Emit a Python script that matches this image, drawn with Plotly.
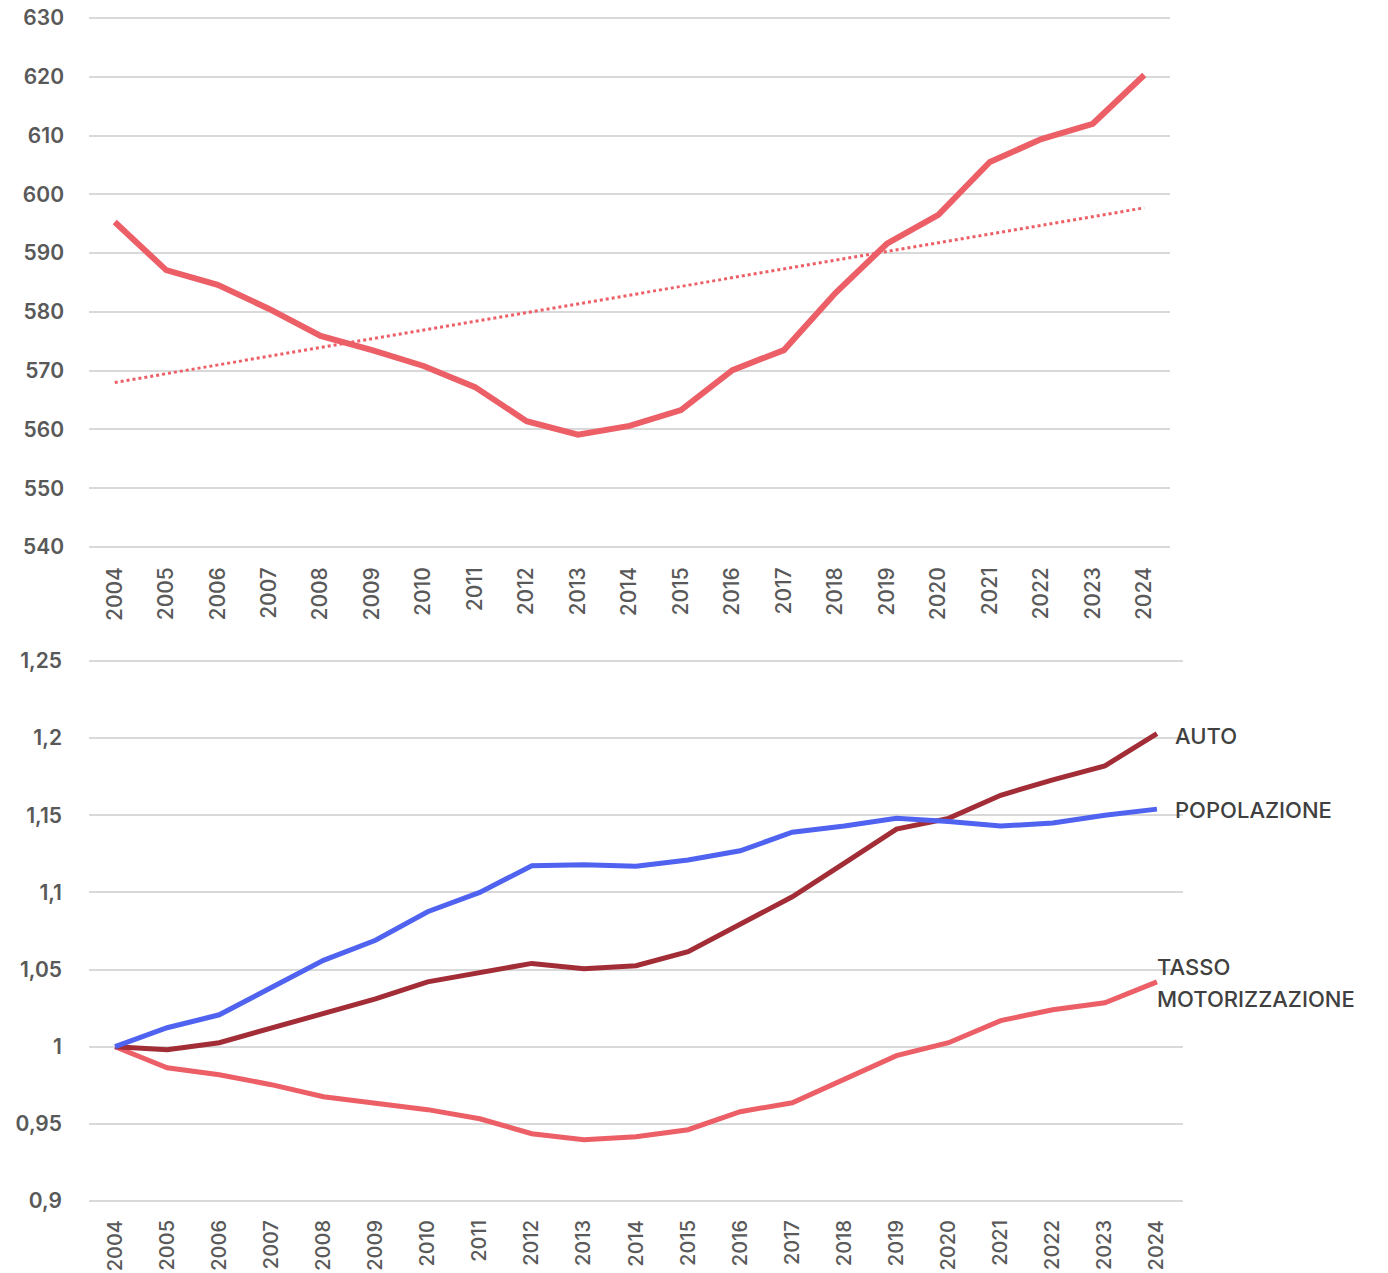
import plotly.graph_objects as go

years = [str(y) for y in range(2004, 2025)]

# Top chart: tasso di motorizzazione (auto per 1000 abitanti)
tasso_abs = [595.3, 587.1, 584.6, 580.5, 575.9, 573.5, 570.8, 567.2, 561.4, 559.1,
             560.6, 563.3, 570.1, 573.5, 583.2, 591.6, 596.5, 605.5, 609.4, 612.0, 620.3]
trend_years = ["2004", "2024"]
trend_vals = [568.0, 597.7]

# Bottom chart: indici (2004 = 1)
auto_idx = [1.0, 0.998, 1.0026, 1.0123, 1.0214, 1.031, 1.042, 1.048, 1.054, 1.0505,
            1.0525, 1.0616, 1.0797, 1.0972, 1.119, 1.141, 1.148, 1.163, 1.173, 1.182, 1.203]
pop_idx = [1.0, 1.0123, 1.0207, 1.038, 1.056, 1.069, 1.0875, 1.1, 1.1173, 1.118,
           1.117, 1.121, 1.127, 1.139, 1.143, 1.148, 1.146, 1.143, 1.145, 1.15, 1.154]
tasso_idx = [1.0, 0.9864, 0.9818, 0.9754, 0.9676, 0.9637, 0.9592, 0.9533, 0.9436, 0.9397,
             0.9417, 0.9462, 0.9579, 0.9637, 0.9793, 0.9942, 1.0026, 1.0169, 1.024, 1.0285, 1.042]

top_ticks = [540, 550, 560, 570, 580, 590, 600, 610, 620, 630]
bot_tickvals = [0.9, 0.95, 1.0, 1.05, 1.1, 1.15, 1.2, 1.25]
bot_ticktext = ["0,9", "0,95", "1", "1,05", "1,1", "1,15", "1,2", "1,25"]

RED = "#EC5F67"
DARK = "#A22D36"
BLUE = "#4F62F0"
GRID = "#D9D9D9"
TICK = "#595959"
FONT = "Inter"

# page body has an 8px margin
OFF = 8
W, H = 1388 - OFF, 1273 - OFF


def dx(px):
    return (px - OFF) / W


def dy(px):
    return 1 - (px - OFF) / H


PAD = 2  # px so that edge gridlines are drawn
top_lo, top_hi = 540, 630
top_px_top, top_px_bot = 18, 547
top_per = (top_px_bot - top_px_top) / (top_hi - top_lo)
top_eps = PAD / top_per

bot_lo, bot_hi = 0.9, 1.25
bot_px_top, bot_px_bot = 661, 1201
bot_per = (bot_px_bot - bot_px_top) / (bot_hi - bot_lo)
bot_eps = PAD / bot_per

fig = go.Figure()
fig.add_trace(go.Scatter(x=years, y=tasso_abs, mode="lines",
                         line=dict(color=RED, width=6), xaxis="x", yaxis="y"))
fig.add_trace(go.Scatter(x=trend_years, y=trend_vals, mode="lines",
                         line=dict(color=RED, width=3, dash="dot"), xaxis="x", yaxis="y"))
fig.add_trace(go.Scatter(x=years, y=tasso_idx, mode="lines",
                         line=dict(color=RED, width=5), xaxis="x2", yaxis="y2"))
fig.add_trace(go.Scatter(x=years, y=auto_idx, mode="lines",
                         line=dict(color=DARK, width=5), xaxis="x2", yaxis="y2"))
fig.add_trace(go.Scatter(x=years, y=pop_idx, mode="lines",
                         line=dict(color=BLUE, width=5), xaxis="x2", yaxis="y2"))

xfont_top = dict(family=FONT, size=21, color=TICK, weight=500)
xfont_bot = dict(family=FONT, size=20, color=TICK, weight=500)
yfont = dict(family=FONT, size=21, color=TICK, weight=600)

common_x = dict(type="category", categoryorder="array", categoryarray=years,
                range=[-0.5, 20.5], tickangle=-90, showgrid=False, zeroline=False,
                showline=False, ticks="", automargin=False, ticklabeloverflow="allow")

fig.update_layout(
    width=W, height=H,
    margin=dict(l=0, r=0, t=0, b=0, autoexpand=False),
    paper_bgcolor="white", plot_bgcolor="white",
    showlegend=False,
    xaxis=dict(domain=[dx(89), dx(1170)], anchor="y", ticklabelstandoff=11 + PAD,
               tickfont=xfont_top, **common_x),
    yaxis=dict(domain=[dy(top_px_bot + PAD), dy(top_px_top - PAD)], anchor="x",
               range=[top_lo - top_eps, top_hi + top_eps],
               tickvals=top_ticks, showgrid=True, gridcolor=GRID, gridwidth=1.5,
               zeroline=False, showline=False, ticks="", tickfont=yfont,
               ticklabelstandoff=24, automargin=False, ticklabeloverflow="allow"),
    xaxis2=dict(domain=[dx(89), dx(1183)], anchor="y2", ticklabelstandoff=10 + PAD,
                tickfont=xfont_bot, **common_x),
    yaxis2=dict(domain=[dy(bot_px_bot + PAD), dy(bot_px_top - PAD)], anchor="x2",
                range=[bot_lo - bot_eps, bot_hi + bot_eps],
                tickvals=bot_tickvals, ticktext=bot_ticktext, showgrid=True,
                gridcolor=GRID, gridwidth=1.5, zeroline=False, showline=False,
                ticks="", tickfont=yfont, ticklabelstandoff=26, automargin=False,
                ticklabeloverflow="allow"),
)

last = len(years) - 1
lab_font = dict(family=FONT, size=22, color="#404040", weight=500)
fig.add_annotation(x=last, y=auto_idx[-1], xref="x2", yref="y2", text="AUTO",
                   showarrow=False, xanchor="left", yanchor="middle", xshift=16,
                   yshift=-2, font=lab_font)
fig.add_annotation(x=last, y=pop_idx[-1], xref="x2", yref="y2", text="POPOLAZIONE",
                   showarrow=False, xanchor="left", yanchor="middle", xshift=16,
                   yshift=-1, font=lab_font)
fig.add_annotation(x=last, y=tasso_idx[-1], xref="x2", yref="y2", text="TASSO",
                   showarrow=False, xanchor="left", yanchor="middle", xshift=-2,
                   yshift=15, font=lab_font)
fig.add_annotation(x=last, y=tasso_idx[-1], xref="x2", yref="y2", text="MOTORIZZAZIONE",
                   showarrow=False, xanchor="left", yanchor="middle", xshift=-2,
                   yshift=-17, font=lab_font)

fig.write_html("out.html")
